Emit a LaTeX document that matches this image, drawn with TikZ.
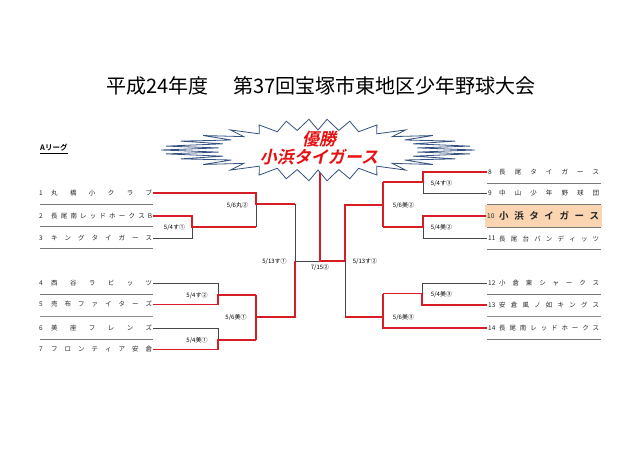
\documentclass[tikz,border=0pt]{standalone}
\usepackage{fontspec}
\setmainfont{Noto Sans CJK JP}[BoldFont={Noto Sans CJK JP Bold}]
\newfontfamily\starfont{Noto Sans CJK JP Bold}[FakeSlant=0.22]
\definecolor{winred}{RGB}{214,28,36}
\definecolor{losegray}{RGB}{70,70,70}
\definecolor{sepgray}{RGB}{120,120,120}
\definecolor{starblue}{RGB}{52,82,128}
\definecolor{starred}{RGB}{232,16,16}
\definecolor{peach}{RGB}{251,212,178}
\def\spreadA#1{#1\spreadB}
\def\spreadB#1{\ifx\relax#1\else\hfill#1\expandafter\spreadB\fi}
\begin{document}
\begin{tikzpicture}[x=1pt,y=-1pt,
  win/.style={draw=winred,line width=1.5pt},
  lose/.style={draw=losegray,line width=0.8pt},
  sep/.style={draw=sepgray,line width=0.8pt},
  septhick/.style={draw=sepgray!80,line width=1.8pt},
  lab/.style={font=\fontsize{6}{7}\selectfont,inner sep=0pt},
  teamtxt/.style={font=\fontsize{6.5}{7}\selectfont,inner sep=0pt,text=black!85},
  startxt/.style={font=\starfont\fontsize{17}{19}\selectfont,text=starred,inner sep=0pt}]
\useasboundingbox (0,0) rectangle (640,452);

% title
\node[anchor=west,inner sep=0pt,font=\fontsize{20}{24}\selectfont] (title) at (106,86)
  {平成24年度\hspace{1.25em}第37回宝塚市東地区少年野球大会};
\node[anchor=west,inner sep=0pt,font=\bfseries\fontsize{7.5}{8}\selectfont] (league) at (40,149) {\underline{Aリーグ}};

% highlight of row 10
\fill[peach] (485,205) rectangle (602,227);

% separators left
\foreach \y in {204.5,226.5,248.5,294,339}{\draw[sep] (40,\y) -- (153,\y);}
\draw[septhick] (40,316.5) -- (153,316.5);
% separators right
\foreach \y in {183,204.5,227,249,294,339}{\draw[sep] (487,\y) -- (601,\y);}
\draw[septhick] (487,316.5) -- (601,316.5);

% team names left
\newcommand\teamL[3]{%
  \node[teamtxt,anchor=west] (nL#1) at (39,#2) {#1};
  \node[teamtxt,anchor=west] (tL#1) at (51,#2) {\makebox[101pt][s]{\spreadA#3\relax}};
  \coordinate (eL#1) at (153,#2);}
\teamL{1}{193}{丸橋小クラブ}
\teamL{2}{216}{長尾南レッドホークスB}
\teamL{3}{238}{キングタイガース}
\teamL{4}{283}{西谷ラビッツ}
\teamL{5}{304.5}{売布ファイターズ}
\teamL{6}{328}{美座フレンズ}
\teamL{7}{349.5}{フロンティア安倉}

% team names right
\newcommand\teamR[3]{%
  \node[teamtxt,anchor=west] (nR#1) at (488,#2) {#1};
  \node[teamtxt,anchor=west] (tR#1) at (499,#2) {\makebox[100pt][s]{\spreadA#3\relax}};
  \coordinate (eR#1) at (487,#2);}
\teamR{8}{172}{長尾タイガース}
\teamR{9}{193.5}{中山少年野球団}
\node[teamtxt,anchor=west] (nR10) at (487,216) {10};
\node[teamtxt,anchor=west,font=\bfseries\fontsize{9.5}{10}\selectfont] (tR10) at (499,216)
  {\makebox[100pt][s]{\spreadA 小浜タイガース\relax}};
\coordinate (eR10) at (486,216);
\teamR{11}{238.5}{長尾台バンディッツ}
\teamR{12}{283.5}{小倉東シャークス}
\teamR{13}{305}{安倉風ノ如キングス}
\teamR{14}{328}{長尾南レッドホークス}

% junctions
\coordinate (a1) at (192,227);
\coordinate (a2) at (218,295);
\coordinate (a3) at (218,340);
\coordinate (b1) at (256,204);
\coordinate (b2) at (256,317);
\coordinate (c1) at (295,261);
\coordinate (f)  at (320,261);
\coordinate (ftop) at (320,172);
\coordinate (c2) at (345,261);
\coordinate (d1) at (423,182);
\coordinate (d2) at (423,227);
\coordinate (d3) at (422,293.5);
\coordinate (e1) at (383,205);
\coordinate (e2) at (383,317);

% left bracket
\draw[lose] (eL3) -| (a1);
\draw[lose] (b1) -- (a1 -| b1);
\draw[lose] (b1 -| c1) -- (c1);
\draw[lose] (eL4) -| (a2);
\draw[lose] (eL6) -| (a3);
\draw[lose] (c1) -- (f);
\draw[win] (eL2) -| (a1) -- (a1 -| b1);
\draw[win] (eL1) -| (b1) -- (b1 -| c1);
\draw[win] (eL5) -| (a2) -- (a2 -| b2);
\draw[win] (eL7) -| (a3) -- (a3 -| b2);
\draw[win] (a2 -| b2) -- (a3 -| b2);
\draw[win] (b2) -- (b2 -| c1) -- (c1);
% right bracket
\draw[lose] (eR9) -| (d1);
\draw[lose] (eR11) -| (d2);
\draw[lose] (eR12) -| (d3);
\draw[lose] (e2 -| c2) -- (c2);
\draw[win] (eR8) -| (d1) -- (d1 -| e1);
\draw[win] (eR10) -| (d2) -- (d2 -| e1);
\draw[win] (d1 -| e1) -- (d2 -| e1);
\draw[win] (e1) -- (e1 -| c2) -- (c2);
\draw[win] (eR13) -| (d3) -- (d3 -| e2);
\draw[win] (d3 -| e2) -- (eR14 -| e2) -- (eR14);
\draw[win] (e2) -- (e2 -| c2);
% final
\draw[win] (ftop) -- (f) -- (c2);

% labels
\node[lab] (l1) at (174.5,227) {5/4す①};
\node[lab] (l2) at (237.5,205) {5/6丸②};
\node[lab] (l3) at (197,295) {5/4す②};
\node[lab] (l4) at (197,340) {5/4美①};
\node[lab] (l5) at (236,317) {5/6美①};
\node[lab] (l6) at (274.5,261) {5/13す①};
\node[lab] (l7) at (320,267.5) {7/15②};
\node[lab] (l8) at (365,261) {5/13す②};
\node[lab] (l9) at (403.5,205) {5/6美②};
\node[lab] (l10) at (441.5,183) {5/4す③};
\node[lab] (l11) at (441.5,227) {5/4美②};
\node[lab] (l12) at (441.5,294) {5/4美③};
\node[lab] (l13) at (403.5,317) {5/6美③};

% starburst points
\foreach \i in {0,...,59}{
  \pgfmathsetmacro\ang{\i*6}
  \pgfmathsetmacro\cc{cos(\ang)}
  \pgfmathsetmacro\sn{sin(\ang)}
  \ifodd\i
    \coordinate (s\i) at ({318+100*\cc},{150+20*\sn});
  \else
    \pgfmathsetmacro\px{318+157*\cc*(0.5+0.5*abs(\cc))}
    \pgfmathsetmacro\py{150+31*\sn*(0.5+0.5*abs(\sn))}
    \coordinate (s\i) at (\px,\py);
  \fi
}
\draw[fill=white,draw=starblue,line width=0.8pt,line join=miter]
  (s0) \foreach \i in {1,...,59}{ -- (s\i) } -- cycle;
\node[startxt] (champ) at (319,139) {優勝};
\node[startxt] (champteam) at (319,157) {小浜タイガース};
\end{tikzpicture}
\end{document}
